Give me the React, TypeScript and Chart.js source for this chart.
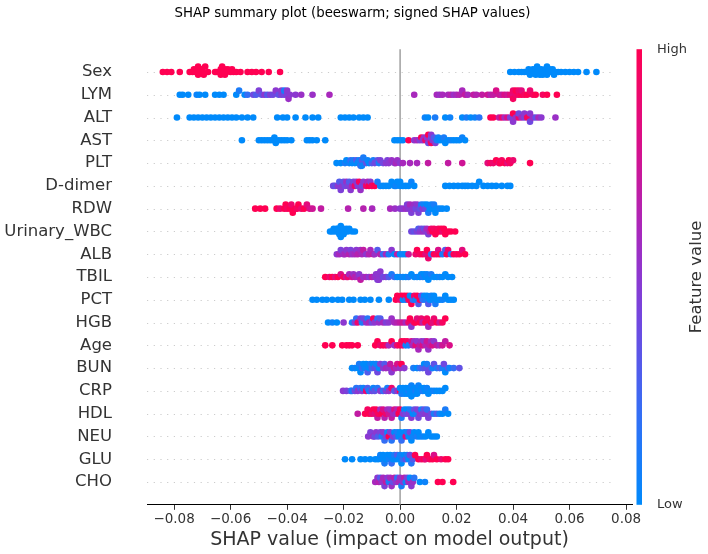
import React, { useEffect, useRef } from "react";
import { Chart, registerables } from "chart.js";
Chart.register(...registerables);

const FEATURES = ["Sex", "LYM", "ALT", "AST", "PLT", "D-dimer", "RDW", "Urinary_WBC", "ALB", "TBIL", "PCT", "HGB", "Age", "BUN", "CRP", "HDL", "NEU", "GLU", "CHO"];
const X_TICKS = [-0.08, -0.06, -0.04, -0.02, 0, 0.02, 0.04, 0.06, 0.08];
const X_MIN = -0.0896;
const X_MAX = 0.0821;
const TITLE = "SHAP summary plot (beeswarm; signed SHAP values)";
const X_LABEL = "SHAP value (impact on model output)";
const CB_LABEL = "Feature value";

// [SHAP value, normalised feature value (0 = low, 1 = high)]
const SEX = [[-0.084,1],[-0.0825,1],[-0.081,1],[-0.078,1],[-0.0745,1],[-0.0735,1],[-0.073,1],[-0.0725,1],[-0.072,1],[-0.0715,1],[-0.0715,1],[-0.071,1],[-0.0705,1],[-0.070,1],[-0.070,1],[-0.0695,1],[-0.069,1],[-0.068,1],[-0.0655,1],[-0.065,1],[-0.064,1],[-0.0635,1],[-0.0635,1],[-0.063,1],[-0.0625,1],[-0.062,1],[-0.062,1],[-0.0615,1],[-0.061,1],[-0.060,1],[-0.0595,1],[-0.059,1],[-0.058,1],[-0.0565,1],[-0.054,1],[-0.0525,1],[-0.051,1],[-0.049,1],[-0.0465,1],[-0.0425,1],
  [0.039,0],[0.0405,0],[0.042,0],[0.043,0],[0.044,0],[0.045,0],[0.0455,0],[0.046,0],[0.0465,0],[0.047,0],[0.0475,0],[0.048,0],[0.048,0],[0.0485,0],[0.049,0],[0.049,0],[0.0495,0],[0.050,0],[0.050,0],[0.0505,0],[0.051,0],[0.0515,0],[0.052,0],[0.052,0],[0.0525,0],[0.053,0],[0.0535,0],[0.054,0],[0.0545,0],[0.055,0],[0.056,0],[0.057,0],[0.0585,0],[0.060,0],[0.0615,0],[0.063,0],[0.066,0],[0.0695,0]];
const LYM = [[-0.078,0],[-0.077,0],[-0.075,0],[-0.072,0.05],[-0.071,0],[-0.069,0],[-0.0655,0],[-0.064,0],[-0.0625,0],[-0.058,0],[-0.057,0.1],[-0.055,0],[-0.054,0.2],
  [-0.052,0.4],[-0.051,0.3],[-0.050,0.45],[-0.049,0.35],[-0.048,0.5],[-0.047,0.3],[-0.046,0.45],[-0.045,0.4],[-0.044,0.5],[-0.043,0.35],[-0.042,0.45],[-0.042,0.5],[-0.041,0.4],[-0.041,0.1],[-0.040,0.45],[-0.040,0.5],[-0.0395,0.55],[-0.039,0.5],[-0.037,0.5],[-0.035,0.55],[-0.031,0.55],[-0.025,0.6],
  [0.005,0.6],[0.013,0.6],[0.014,0.55],[0.015,0.6],[0.017,0.6],[0.018,0.65],[0.019,0.55],[0.020,0.6],[0.021,0.65],[0.022,0.6],[0.023,0.7],[0.024,0.6],[0.026,0.7],[0.027,0.65],[0.029,0.7],[0.031,0.75],[0.032,0.65],[0.033,0.7],[0.034,0.8],[0.035,0.75],[0.036,0.7],[0.037,0.8],[0.038,0.75],[0.039,0.85],[0.040,0.9],[0.040,0.95],[0.041,0.9],[0.041,1],[0.042,0.95],[0.042,0.9],[0.043,1],[0.043,0.85],[0.044,0.95],[0.045,1],[0.046,0.9],[0.047,0.95],[0.048,1],[0.0505,0.95],[0.052,1],[0.0555,1]];
const ALT = [[-0.079,0],[-0.0745,0],[-0.073,0],[-0.0715,0],[-0.070,0],[-0.0685,0],[-0.067,0],[-0.0655,0],[-0.064,0],[-0.0625,0],[-0.061,0],[-0.0595,0],[-0.058,0],[-0.056,0],[-0.054,0],[-0.052,0],[-0.0435,0],[-0.0415,0],[-0.040,0],[-0.037,0],[-0.0335,0],[-0.031,0],[-0.029,0],[-0.021,0],[-0.0195,0],[-0.018,0],[-0.0165,0],[-0.0145,0],[-0.013,0],[-0.0115,0],
  [0.0088,0.05],[0.0099,0],[0.0124,0.1],[0.016,0],[0.0177,0.05],[0.022,0],[0.0235,0.1],[0.025,0],[0.0265,0.05],[0.028,0.15],
  [0.032,1],[0.033,1],[0.035,0.7],[0.036,0.9],[0.037,0.6],[0.038,0.8],[0.039,0.45],[0.040,1],[0.040,0.5],[0.041,0.55],[0.042,0.9],[0.042,0.4],[0.043,0.6],[0.044,0.45],[0.044,0.5],[0.045,0.95],[0.046,0.5],[0.046,0.4],[0.047,0.55],[0.048,0.35],[0.049,0.6],[0.050,0.5],[0.055,0.55]];
const AST = [[-0.056,0],[-0.050,0],[-0.049,0],[-0.048,0],[-0.047,0],[-0.046,0],[-0.045,0],[-0.0445,0],[-0.044,0],[-0.043,0],[-0.042,0],[-0.041,0],[-0.040,0],[-0.0385,0],[-0.033,0],[-0.032,0],[-0.031,0],[-0.0295,0],[-0.0265,0],
  [-0.002,0],[-0.001,0],[0.0,0],[0.001,0],
  [0.003,1],[0.005,0.5],[0.006,0.6],[0.007,0.45],[0.0075,1],[0.008,0.5],[0.0085,0.55],[0.009,0.9],[0.0095,0.5],[0.010,0.4],[0.010,1],[0.0105,0.6],[0.011,0.35],[0.011,0.95],[0.011,0.5],[0.0115,0.5],[0.012,0.3],[0.0125,0.45],[0.013,0.1],[0.0135,0.05],[0.014,0],[0.015,0],[0.0155,0.1],[0.016,0],[0.017,0],[0.018,0.05],[0.019,0],[0.020,0],[0.021,0],[0.022,0.05],[0.023,0]];
const PLT = [[-0.0225,0],[-0.021,0],[-0.0195,0.1],[-0.019,0],[-0.018,0.05],[-0.0175,0.2],[-0.017,0],[-0.0165,0.1],[-0.016,0],[-0.0155,0.3],[-0.015,0],[-0.0145,0.05],[-0.014,0.2],[-0.0135,0],[-0.0135,0.3],[-0.0135,0.05],[-0.013,0.1],[-0.012,0.35],[-0.0115,0.05],[-0.011,0],[-0.010,0.3],[-0.0095,0.1],[-0.009,0.4],[-0.008,0.35],[-0.0075,0.1],[-0.007,0.45],[-0.006,0.4],[-0.005,0.5],[-0.0045,0.45],[-0.004,0.5],[-0.003,0.55],[-0.002,0.5],[-0.0015,0.6],[-0.001,0.55],[0.0,0.5],[0.001,0.6],
  [0.0035,0.6],[0.006,0.6],[0.0099,0.7],[0.017,0.7],[0.022,0.75],[0.031,0.85],[0.032,0.95],[0.033,0.9],[0.034,1],[0.035,0.9],[0.0355,1],[0.036,0.95],[0.037,1],[0.038,0.85],[0.0385,1],[0.039,0.95],[0.040,0.9],[0.046,1]];
const DDIMER = [[-0.0237,0.4],[-0.023,0.35],[-0.022,0.5],[-0.0215,0.3],[-0.021,0.45],[-0.0205,0.5],[-0.020,0.35],[-0.0195,0.4],[-0.019,0.55],[-0.0185,0.45],[-0.018,0.3],[-0.0175,0.5],[-0.017,0.6],[-0.0165,0.4],[-0.016,0.9],[-0.0155,0.5],[-0.015,0.45],[-0.0145,0.95],[-0.014,0.55],[-0.0135,0.4],[-0.013,0.5],[-0.012,0.9],[-0.0115,0.6],[-0.011,1],[-0.0105,0.5],[-0.010,0.95],[-0.009,1],[-0.008,0.1],[-0.007,0.05],[-0.006,0],[-0.005,0],[-0.004,0],[-0.003,0],[-0.002,0],[-0.0015,0.05],[-0.001,0],[0.0,0],[0.0,0],[0.001,0],[0.002,0],[0.003,0],[0.004,0.05],[0.005,0],
  [0.016,0],[0.0175,0],[0.019,0],[0.0205,0],[0.022,0],[0.023,0],[0.024,0],[0.0255,0],[0.027,0],[0.028,0],[0.0295,0],[0.031,0],[0.0325,0],[0.034,0],[0.036,0],[0.038,0],[0.039,0]];
const RDW = [[-0.0513,1],[-0.0495,1],[-0.0478,1],[-0.0437,1],[-0.0425,0.9],[-0.041,1],[-0.0405,1],[-0.040,0.95],[-0.039,1],[-0.0385,0.9],[-0.038,1],[-0.037,1],[-0.0365,0.95],[-0.036,1],[-0.035,0.9],[-0.034,1],[-0.033,0.85],[-0.032,0.8],[-0.031,0.75],[-0.028,0.7],[-0.0184,0.65],[-0.013,0.65],[-0.0099,0.6],[-0.0035,0.6],[-0.0018,0.55],[0.0,0.5],
  [0.001,0.5],[0.002,0.55],[0.0025,0.45],[0.003,0.5],[0.0035,0.6],[0.004,0.45],[0.0045,0.5],[0.005,0.55],[0.0055,0.4],[0.006,0.5],[0.0065,0.45],[0.007,0.35],[0.0075,0.1],[0.008,0.5],[0.0085,0.05],[0.009,0.4],[0.0095,0],[0.010,0.1],[0.0105,0],[0.011,0.05],[0.0115,0],[0.012,0.1],[0.0125,0],[0.013,0],[0.014,0.05],[0.015,0],[0.0165,0]];
const UWBC = [[-0.0248,0],[-0.024,0],[-0.0235,0],[-0.023,0],[-0.0225,0],[-0.022,0],[-0.022,0],[-0.0215,0],[-0.021,0],[-0.021,0],[-0.0205,0],[-0.020,0],[-0.020,0],[-0.0195,0],[-0.019,0],[-0.0185,0],[-0.018,0],[-0.017,0],[-0.016,0],
  [0.004,0.4],[0.005,0.35],[0.006,0.45],[0.0065,0.3],[0.007,0.5],[0.0075,0.4],[0.008,0.55],[0.0085,0.35],[0.009,0.5],[0.0095,0.6],[0.010,0.45],[0.0105,0.7],[0.011,0.9],[0.0115,1],[0.012,0.95],[0.0125,1],[0.013,1],[0.0135,0.95],[0.014,1],[0.0145,1],[0.015,0.9],[0.0155,1],[0.016,1],[0.017,1],[0.018,1],[0.0195,1]];
const ALB = [[-0.0224,0.5],[-0.0215,0.6],[-0.021,0.45],[-0.020,0.55],[-0.0195,0.6],[-0.019,0.5],[-0.018,0.65],[-0.0175,0.45],[-0.017,0.55],[-0.016,0.6],[-0.0155,0.5],[-0.015,0.65],[-0.014,0.55],[-0.0135,0.6],[-0.013,0.7],[-0.012,0.5],[-0.011,0.65],[-0.0105,0.6],[-0.0095,0.7],[-0.009,0.55],[-0.008,0.3],[-0.007,0.65],[-0.006,0.2],[-0.005,0.6],[-0.004,0.1],[-0.003,0.5],[-0.002,0],[-0.001,0.7],[0.0,0],[0.001,0.05],[0.002,0],[0.003,0.75],
  [0.0055,0.9],[0.006,1],[0.007,0.95],[0.008,1],[0.009,0.85],[0.0095,1],[0.010,0.9],[0.011,0.2],[0.012,1],[0.013,0.95],[0.0135,0.8],[0.014,1],[0.015,0.1],[0.016,0.3],[0.0165,1],[0.017,0.9],[0.018,0.15],[0.019,1],[0.020,0.95],[0.021,1],[0.022,0.85],[0.023,1]];
const TBIL = [[-0.0265,1],[-0.025,0.9],[-0.024,1],[-0.023,0.85],[-0.022,1],[-0.021,0.8],[-0.020,0.95],[-0.019,0.7],[-0.0185,0.9],[-0.018,0.6],[-0.017,0.75],[-0.0165,0.55],[-0.016,0.65],[-0.015,0.6],[-0.0145,0.5],[-0.014,0.7],[-0.013,0.55],[-0.012,0.6],[-0.011,0.5],[-0.010,0.65],[-0.009,0.55],[-0.0085,0.5],[-0.008,0.45],[-0.0078,0.55],[-0.0078,0.5],[-0.0075,0.5],[-0.007,0.5],[-0.006,0.4],[-0.005,0.45],[-0.004,0.3],[-0.003,0.1],[-0.002,0.2],[-0.001,0],
  [0.0,0],[0.001,0.05],[0.002,0],[0.003,0.1],[0.004,0],[0.005,0],[0.006,0.05],[0.007,0],[0.0075,0],[0.008,0.1],[0.0085,0],[0.009,0],[0.0095,0.05],[0.010,0],[0.0105,0],[0.011,0.1],[0.012,0],[0.013,0],[0.014,0.05],[0.015,0],[0.016,0],[0.017,0],[0.0184,0]];
const PCT = [[-0.031,0],[-0.0295,0],[-0.0275,0],[-0.026,0],[-0.024,0],[-0.022,0],[-0.0205,0],[-0.018,0],[-0.0165,0],[-0.014,0],[-0.0125,0],[-0.0105,0],[-0.0075,0],[-0.004,0],[-0.0015,1],
  [-0.001,1],[0.0,0.9],[0.0005,1],[0.001,0],[0.0015,1],[0.002,0.1],[0.0025,1],[0.003,0.95],[0.0035,0],[0.004,1],[0.0045,0.2],[0.005,0.9],[0.0055,0.05],[0.006,1],[0.0065,0.3],[0.007,1],[0.0075,0.4],[0.008,0.2],[0.0085,0],[0.009,0.1],[0.0095,0],[0.010,0.3],[0.0105,0],[0.011,0.05],[0.0115,0],[0.012,0],[0.0125,0.1],[0.013,0],[0.014,0],[0.015,0.05],[0.016,0],[0.017,0],[0.018,0],[0.019,0]];
const HGB = [[-0.0255,0],[-0.024,0.05],[-0.0224,0],[-0.020,0.5],[-0.017,0.1],[-0.016,0.45],[-0.0155,0.2],[-0.015,0.9],[-0.014,0.5],[-0.0135,0.1],[-0.013,0.4],[-0.012,0.55],[-0.0115,0.15],[-0.011,0.6],[-0.010,0.4],[-0.0095,0.95],[-0.009,0.5],[-0.008,0.2],[-0.0075,0.55],[-0.007,0.3],[-0.006,0.6],[-0.005,0.45],[-0.004,0.5],[-0.003,0.55],[-0.002,0.6],[-0.001,0.65],[0.0,0.7],
  [0.001,0.75],[0.002,0.6],[0.003,0.9],[0.0035,1],[0.004,0.5],[0.005,0.95],[0.0055,1],[0.006,0.85],[0.007,1],[0.0075,0.9],[0.008,0.7],[0.009,1],[0.0095,0.95],[0.010,0.6],[0.011,1],[0.0115,0.85],[0.012,0.9],[0.013,1],[0.014,0.75],[0.015,0.95],[0.016,1]];
const AGE = [[-0.0265,1],[-0.024,1],[-0.0205,1],[-0.019,1],[-0.018,1],[-0.017,1],[-0.015,1],[-0.0088,1],[-0.008,1],[-0.007,0.9],[-0.006,1],[-0.005,0.95],[-0.004,0.6],[-0.003,1],[-0.002,0.55],[-0.001,0.9],[0.0,1],
  [0.0005,1],[0.001,0.9],[0.0015,1],[0.002,0.05],[0.0025,0.95],[0.003,0.1],[0.004,0.8],[0.0045,0.6],[0.005,0.55],[0.0055,0.85],[0.006,0.5],[0.0065,0.6],[0.007,0.7],[0.0075,0.55],[0.008,0.8],[0.0085,0.5],[0.009,0.65],[0.0095,0.75],[0.010,0.55],[0.0105,0.7],[0.011,0.6],[0.0115,0.8],[0.012,0.5],[0.013,0.7],[0.014,0.6],[0.015,0.75],[0.016,0.7],[0.0175,0.8]];
const BUN = [[-0.017,0],[-0.016,0.05],[-0.015,0],[-0.0145,0.1],[-0.014,0],[-0.0135,0.2],[-0.013,0],[-0.0125,0.05],[-0.012,0],[-0.0115,0.3],[-0.011,0],[-0.0105,0.1],[-0.010,0.25],[-0.0095,0],[-0.009,0.35],[-0.0085,0.05],[-0.008,0.4],[-0.0075,0],[-0.007,0.45],[-0.006,0.5],[-0.0055,0.3],[-0.005,0.6],[-0.004,0.55],[-0.0035,0.7],[-0.003,0.5],[-0.002,0.75],[-0.0015,0.6],[-0.001,0.8],[0.0,0.55],
  [0.0005,1],[0.0015,0.5],[0.0047,0.1],[0.006,0],[0.007,0.2],[0.008,0.3],[0.0085,0],[0.009,0.35],[0.0095,0.1],[0.010,0.4],[0.011,0.3],[0.0115,0.05],[0.012,0.35],[0.013,0.1],[0.014,0.25],[0.015,0.1],[0.0155,0.4],[0.016,0],[0.017,0.3],[0.0175,0.05],[0.019,0.2],[0.021,0.35]];
const CRP = [[-0.0202,0.5],[-0.019,0.45],[-0.0175,0.3],[-0.017,0.1],[-0.016,0.4],[-0.0155,0.15],[-0.015,0.5],[-0.014,0.2],[-0.0135,0.45],[-0.013,0.05],[-0.012,0.9],[-0.0115,0.3],[-0.011,0.1],[-0.010,0.4],[-0.0095,0.05],[-0.009,0.35],[-0.008,0.15],[-0.007,0.5],[-0.006,0.2],[-0.005,0.45],[-0.0045,0.1],[-0.004,0.55],[-0.003,0.9],[-0.002,0.3],[-0.001,0.5],[0.0,1],
  [0.0,0],[0.0005,0.1],[0.001,0],[0.001,0],[0.0015,0.05],[0.002,0],[0.002,0],[0.0025,0],[0.003,0.1],[0.003,0],[0.0035,0],[0.004,0.05],[0.004,0],[0.0045,0],[0.005,0],[0.005,0],[0.0055,0.1],[0.006,0],[0.006,0],[0.0065,0.05],[0.007,0],[0.0075,0],[0.008,0.1],[0.0085,0],[0.009,0],[0.0095,0.05],[0.010,0],[0.011,0],[0.012,0.05],[0.013,0],[0.014,0],[0.015,0],[0.016,0]];
const HDL = [[-0.015,0.7],[-0.0124,1],[-0.0115,0.95],[-0.011,1],[-0.010,0.9],[-0.0095,1],[-0.009,0.85],[-0.0085,1],[-0.008,0.7],[-0.0078,0.95],[-0.007,0.6],[-0.0065,1],[-0.006,0.8],[-0.0055,0.65],[-0.005,0.9],[-0.0045,0.6],[-0.004,0.75],[-0.0035,0.55],[-0.003,0.7],[-0.0025,0.6],[-0.002,0.8],[-0.0015,0.55],[-0.001,0.65],[-0.0005,1],
  [0.0,0.95],[0.0005,0.1],[0.001,0.5],[0.0015,0.05],[0.002,0.4],[0.0025,0],[0.003,0.45],[0.0035,0.1],[0.004,0.5],[0.0045,0],[0.005,0.35],[0.0055,0.05],[0.006,0.45],[0.0065,0.4],[0.007,0.5],[0.0075,0.1],[0.008,0.45],[0.0085,0.35],[0.009,0.5],[0.0095,0.2],[0.010,0.45],[0.011,0.4],[0.012,0.1],[0.013,0.3],[0.014,0.05],[0.015,0],[0.016,0.1],[0.017,0]];
const NEU = [[-0.0113,0.5],[-0.0105,0.45],[-0.0095,0.55],[-0.009,0.4],[-0.0085,0.5],[-0.0078,0.3],[-0.007,0.45],[-0.0065,0.1],[-0.006,0.5],[-0.0055,0.2],[-0.005,0.4],[-0.0045,0.05],[-0.004,1],[-0.0035,0.45],[-0.003,0.15],[-0.0025,0.5],[-0.002,0],[-0.0015,0.35],[-0.001,0.1],[-0.0005,0],
  [0.0,0],[0.0005,0.2],[0.001,0.05],[0.0015,0],[0.002,0.8],[0.0025,0.1],[0.003,0],[0.0035,0.4],[0.004,0],[0.0045,0.05],[0.005,0],[0.006,0.1],[0.0065,0],[0.007,0],[0.008,0.05],[0.009,0],[0.010,0],[0.011,0],[0.012,0],[0.013,0]];
const GLU = [[-0.0195,0],[-0.017,0],[-0.014,0],[-0.0124,0],[-0.0106,0],[-0.0088,0],[-0.0078,0],[-0.007,0.05],[-0.0065,0],[-0.006,0],[-0.0055,0.1],[-0.005,0],[-0.0045,0],[-0.004,0.05],[-0.0035,0],[-0.003,0.2],[-0.0025,0],[-0.002,0.1],[-0.0015,0],[-0.001,0.3],[-0.0005,0],[0.0,0.05],
  [0.0005,0],[0.001,0.2],[0.0015,0],[0.002,0.35],[0.0025,0.1],[0.003,0],[0.0035,0.4],[0.004,0.15],[0.0045,0.3],[0.0053,1],[0.0065,1],[0.0075,0.9],[0.0085,1],[0.009,0.85],[0.0095,1],[0.0105,0.95],[0.0115,1],[0.012,0.8],[0.013,1],[0.0145,0.9],[0.016,1],[0.017,1]];
const CHO = [[-0.0088,0.6],[-0.008,0.5],[-0.0075,0.65],[-0.007,0.3],[-0.0065,0.55],[-0.006,0.6],[-0.0055,0.45],[-0.005,0.7],[-0.0045,0.5],[-0.004,0.1],[-0.0035,0.6],[-0.003,0.55],[-0.0025,0.35],[-0.002,0.65],[-0.0015,0.5],[-0.001,0.2],[-0.0005,0.6],
  [0.0,0.55],[0.0005,0.1],[0.001,0.5],[0.0015,0.65],[0.002,0.05],[0.0025,0.45],[0.003,0.6],[0.0035,0],[0.004,0.5],[0.0045,0.55],[0.005,0.15],[0.007,0],[0.0088,0.05],[0.0134,1],[0.015,1],[0.0188,1]];

const ROWS = [SEX, LYM, ALT, AST, PLT, DDIMER, RDW, UWBC, ALB, TBIL, PCT, HGB, AGE, BUN, CRP, HDL, NEU, GLU, CHO];

// shap "red_blue" colormap approximation (low -> high)
const CMAP_STOPS: [number, number[]][] = [
  [0.0, [0, 138, 251]],
  [0.2, [52, 110, 245]],
  [0.4, [112, 72, 224]],
  [0.5, [140, 56, 208]],
  [0.6, [168, 40, 188]],
  [0.8, [218, 14, 136]],
  [1.0, [255, 0, 82]],
];
function cmap(t: number): string {
  const v = Math.max(0, Math.min(1, t));
  for (let i = 1; i < CMAP_STOPS.length; i++) {
    const [t1, c1] = CMAP_STOPS[i];
    const [t0, c0] = CMAP_STOPS[i - 1];
    if (v <= t1) {
      const f = (v - t0) / (t1 - t0);
      const c = c0.map((a, k) => Math.round(a + (c1[k] - a) * f));
      return `rgb(${c[0]},${c[1]},${c[2]})`;
    }
  }
  return "rgb(255,0,82)";
}

// beeswarm layout (shap-style binning, alternating layers up/down)
const BIN = 0.0012;
function swarm(shaps: number[]): number[] {
  const n = shaps.length;
  const quant = shaps.map((s) => Math.round(s / BIN));
  const inds = shaps.map((_, i) => i).sort((a, b) => quant[a] - quant[b] || a - b);
  const ys = new Array(n).fill(0);
  let layer = 0;
  let last = NaN;
  for (const ind of inds) {
    if (quant[ind] !== last) layer = 0;
    ys[ind] = Math.ceil(layer / 2) * ((layer % 2) * 2 - 1);
    layer++;
    last = quant[ind];
  }
  const m = Math.max(...ys.map((y) => y + 1));
  return ys.map((y) => y * 0.9 * (0.4 / m));
}

const FONT = "DejaVu Sans";
const fmt = (v: number) => (v === 0 ? "0.00" : (v < 0 ? "\u2212" : "") + Math.abs(v).toFixed(2));

export default function App() {
  const ref = useRef<HTMLCanvasElement | null>(null);
  useEffect(() => {
    if (!ref.current) return;
    const nF = FEATURES.length;
    const datasets = ROWS.map((row, i) => {
      const shaps = row.map((p) => p[0]);
      const offs = swarm(shaps);
      const pos = nF - 1 - i;
      return {
        label: FEATURES[i],
        data: row.map((p, k) => ({ x: p[0], y: pos + offs[k] })),
        pointBackgroundColor: row.map((p) => cmap(p[1])),
        pointBorderWidth: 0,
        pointRadius: 3.3,
        pointHoverRadius: 3.3,
        showLine: false,
      };
    });

    const decor = {
      id: "decor",
      beforeDatasetsDraw(chart: any) {
        const { ctx, chartArea, scales } = chart;
        const x = scales.x, y = scales.y;
        ctx.save();
        ctx.strokeStyle = "#cccccc";
        ctx.lineWidth = 1;
        ctx.setLineDash([1.2, 5.5]);
        for (let i = 0; i < nF; i++) {
          const py = Math.round(y.getPixelForValue(i)) + 0.5;
          ctx.beginPath();
          ctx.moveTo(chartArea.left, py);
          ctx.lineTo(chartArea.right - 16, py);
          ctx.stroke();
        }
        ctx.setLineDash([]);
        const px = x.getPixelForValue(0);
        ctx.strokeStyle = "#999999";
        ctx.lineWidth = 1.4;
        ctx.beginPath();
        ctx.moveTo(px, chartArea.top);
        ctx.lineTo(px, chartArea.bottom);
        ctx.stroke();
        ctx.restore();
      },
      afterDraw(chart: any) {
        const { ctx, chartArea } = chart;
        ctx.save();
        ctx.fillStyle = "#000000";
        ctx.font = `13.3px "${FONT}"`;
        ctx.textAlign = "center";
        ctx.textBaseline = "middle";
        ctx.fillText(TITLE, 352.5, 14);
        ctx.fillStyle = "#333333";
        ctx.font = `19px "${FONT}"`;
        ctx.fillText(X_LABEL, (chartArea.left + chartArea.right) / 2, 540);
        const cbL = 636.5, cbW = 5.5;
        const top = chartArea.top, bot = chartArea.bottom;
        const g = ctx.createLinearGradient(0, bot, 0, top);
        for (let i = 0; i <= 20; i++) g.addColorStop(i / 20, cmap(i / 20));
        ctx.fillStyle = g;
        ctx.fillRect(cbL, top, cbW, bot - top);
        ctx.fillStyle = "#333333";
        ctx.font = `13px "${FONT}"`;
        ctx.textAlign = "left";
        ctx.fillText("High", 657, top);
        ctx.fillText("Low", 657, bot);
        ctx.translate(697, (top + bot) / 2);
        ctx.rotate(-Math.PI / 2);
        ctx.textAlign = "center";
        ctx.font = `16.5px "${FONT}"`;
        ctx.fillText(CB_LABEL, 0, 0);
        ctx.restore();
      },
    };

    const chart = new Chart(ref.current, {
      type: "scatter",
      data: { datasets: datasets as any },
      options: {
        animation: false,
        responsive: true,
        maintainAspectRatio: false,
        layout: { padding: { left: 0, right: 76, top: 49.2, bottom: 0 } },
        plugins: { legend: { display: false }, tooltip: { enabled: false }, title: { display: false } },
        events: [],
        scales: {
          x: {
            type: "linear",
            min: X_MIN,
            max: X_MAX,
            afterBuildTicks: (s: any) => { s.ticks = X_TICKS.map((v) => ({ value: v })); },
            afterFit: (s: any) => { s.height = 49.2; },
            ticks: { callback: (v: any) => fmt(Number(v)), font: { family: FONT, size: 13.5 }, color: "#333333", padding: 2, maxRotation: 0, autoSkip: false },
            grid: { drawOnChartArea: false, drawTicks: true, tickLength: 5, tickColor: "#333333", tickWidth: 1 },
            border: { display: true, color: "#000000", width: 1 },
          },
          y: {
            type: "linear",
            min: -1,
            max: FEATURES.length,
            afterBuildTicks: (s: any) => { s.ticks = FEATURES.map((_, i) => ({ value: i })); },
            afterFit: (s: any) => { s.width = 147; },
            ticks: { callback: (v: any) => FEATURES[FEATURES.length - 1 - Number(v)], font: { family: FONT, size: 16.5 }, color: "#333333", padding: 35, autoSkip: false },
            grid: { display: false, drawTicks: false },
            border: { display: false },
          },
        },
      },
      plugins: [decor],
    });
    return () => chart.destroy();
  }, []);

  return (
    <div style={{ position: "absolute", left: 0, top: 0, width: 708, height: 554, background: "#ffffff" }}>
      <canvas ref={ref} />
    </div>
  );
}
